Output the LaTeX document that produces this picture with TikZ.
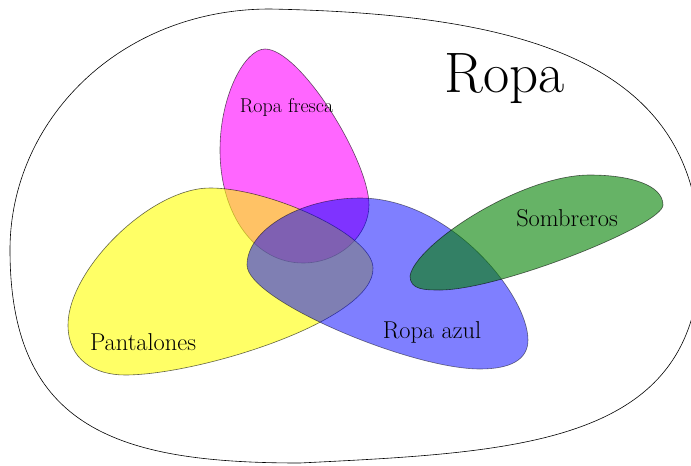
\documentclass[tikz,border=0pt]{standalone}
\usepackage{fontspec}
\definecolor{cmag}{RGB}{255,0,255}
\definecolor{cyel}{RGB}{255,255,0}
\definecolor{cblu}{RGB}{0,0,255}
\definecolor{cgrn}{RGB}{0,128,0}
\begin{document}
\begin{tikzpicture}[x=1pt,y=-1pt,
  blob/.style={draw=black,line width=0.6pt},
  lbl/.style={font=\fontsize{24.4}{28}\selectfont,anchor=base,inner sep=0pt}]
\useasboundingbox (0,0) rectangle (691,466);
\begin{scope}
\clip (0,0) rectangle (691,466);
% outer set
\draw[line width=0.6pt] (270,9) .. controls (120,9) and (10,120) .. (10,250)
  .. controls (10,430) and (120,463) .. (300,463)
  .. controls (520,452) and (700,445) .. (700,255)
  .. controls (700,60) and (520,14) .. (270,9) -- cycle;
\end{scope}
% Ropa fresca
\draw[blob,fill=cmag,opacity=0.6] (265,49) .. controls (245,49) and (220,95) .. (220,150)
  .. controls (220,215) and (255,263) .. (303,263)
  .. controls (340,263) and (369,235) .. (369,205)
  .. controls (369,160) and (300,49) .. (265,49) -- cycle;
% Pantalones
\draw[blob,fill=cyel,opacity=0.6] (210,188) .. controls (150,188) and (68,270) .. (68,325)
  .. controls (68,360) and (95,375) .. (125,375)
  .. controls (200,375) and (375,320) .. (373,268)
  .. controls (373,235) and (270,188) .. (210,188) -- cycle;
% Ropa azul
\draw[blob,fill=cblu,opacity=0.5] (360,198) .. controls (300,198) and (247,230) .. (247,265)
  .. controls (247,300) and (410,369) .. (480,369)
  .. controls (510,369) and (528,360) .. (528,340)
  .. controls (528,295) and (450,198) .. (360,198) -- cycle;
% Sombreros
\draw[blob,fill=cgrn,opacity=0.6] (410,276) .. controls (410,290) and (425,290) .. (440,290)
  .. controls (500,290) and (663,225) .. (663,205)
  .. controls (663,185) and (630,175) .. (590,175)
  .. controls (520,175) and (415,245) .. (410,276) -- cycle;
\node[anchor=base,inner sep=0pt,font=\fontsize{57}{66}\selectfont] (ropa) at (504.5,92) {Ropa};
\node[lbl,font=\fontsize{20}{24}\selectfont] (fresca) at (286.5,112) {Ropa fresca};
\node[lbl] (pant) at (143,350) {Pantalones};
\node[lbl] (azul) at (432,338) {Ropa azul};
\node[lbl] (somb) at (567,226) {Sombreros};
\end{tikzpicture}
\end{document}
